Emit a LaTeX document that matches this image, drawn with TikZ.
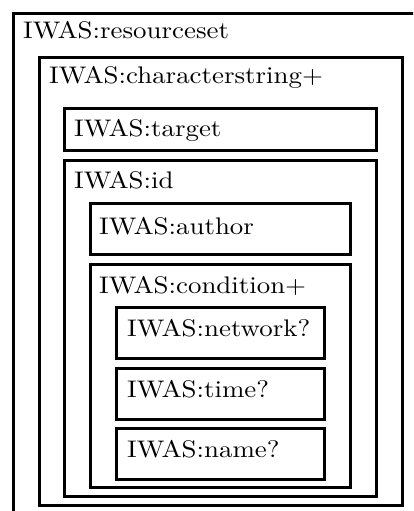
\documentclass[tikz,border=0pt]{standalone}
\usepackage{fontspec}
\setmainfont{lmroman10-regular.otf}
\newcommand{\wide}[1]{\scalebox{1.12}[1]{#1}}
\begin{document}
\begin{tikzpicture}[x=1pt,y=-1pt,
  box/.style={draw=black, line width=2.8pt, rectangle, inner sep=0pt},
  lbl/.style={anchor=base west, inner sep=0pt, font=\fontsize{24}{29}\selectfont}]
\useasboundingbox (0,0) rectangle (413,511);
\clip (0,0) rectangle (413,511);
% boxes given by corners
\newcommand{\mybox}[5]{\node[box, anchor=north west, minimum width=#4-#2, minimum height=#5-#3] (#1) at (#2,#3) {};}
\mybox{rs}{12}{12}{440}{540}
\mybox{cs}{38}{56}{401}{504}
\mybox{tg}{63}{107}{375}{149}
\mybox{id}{63}{159}{375}{495}
\mybox{au}{89}{202}{349}{253}
\mybox{cd}{89}{263}{349}{486}
\mybox{nw}{115}{306}{323}{357}
\mybox{tm}{115}{367}{323}{418}
\mybox{nm}{115}{427}{323}{478}
% labels
\node[lbl] (lrs) at (23,39) {\wide{IWAS:resourceset}};
\node[lbl] (lcs) at (49,84) {\wide{IWAS:characterstring+}};
\node[lbl] (ltg) at (74,136) {\wide{IWAS:target}};
\node[lbl] (lid) at (74,188) {\wide{IWAS:id}};
\node[lbl] (lau) at (99,234) {\wide{IWAS:author}};
\node[lbl] (lcd) at (99,293) {\wide{IWAS:condition+}};
\node[lbl] (lnw) at (127,336) {\wide{IWAS:network?}};
\node[lbl] (ltm) at (127,397) {\wide{IWAS:time?}};
\node[lbl] (lnm) at (127,457) {\wide{IWAS:name?}};
\end{tikzpicture}
\end{document}
